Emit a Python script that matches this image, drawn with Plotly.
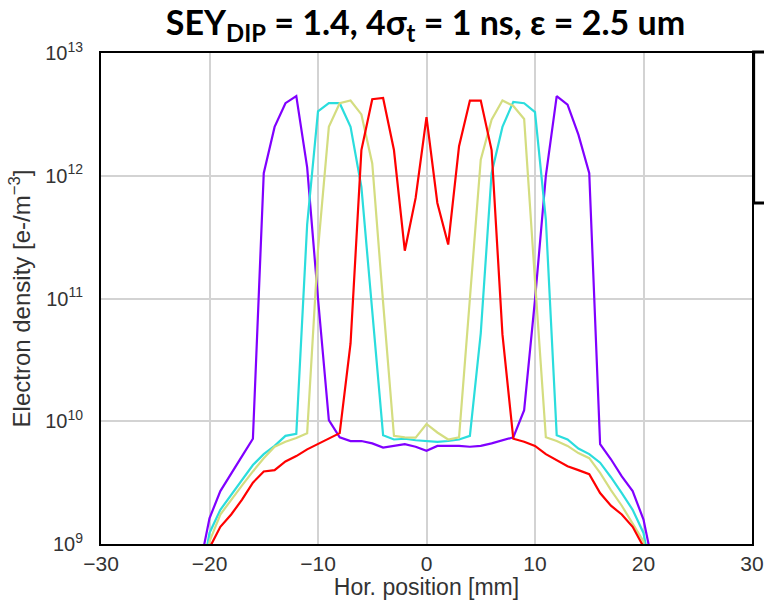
import plotly.graph_objects as go

x_mm = list(range(-21, 22))

purple = [5.9e8, 1.62e9, 2.7e9, 3.7e9, 5.2e9, 7.2e9, 1.05e12, 2.5e12, 3.9e12, 4.45e12,
          1.17e12, 1.0e11, 1.02e10, 7.4e9, 6.9e9, 6.9e9, 6.6e9, 6.1e9, 6.3e9, 6.5e9,
          6.2e9, 5.75e9, 6.3e9, 6.3e9, 6.3e9, 6.2e9, 6.3e9, 6.6e9, 7.0e9, 7.4e9,
          1.23e10, 9.8e10, 1.0e12, 4.45e12, 3.8e12, 2.16e12, 1.05e12, 6.5e9, 4.9e9, 3.55e9,
          2.7e9, 1.58e9, 5.9e8]
cyan = [4e8, 1.23e9, 1.9e9, 2.5e9, 3.3e9, 4.4e9, 5.4e9, 6.3e9, 7.6e9, 7.9e9,
        4.0e11, 3.35e12, 3.9e12, 3.9e12, 2.5e12, 8.1e11, 7.9e10, 7.7e9, 7.1e9, 7.2e9,
        7.0e9, 6.9e9, 6.8e9, 6.9e9, 7.1e9, 7.6e9, 5.2e10, 1.05e12, 2.5e12, 4.0e12,
        3.9e12, 3.3e12, 4.4e11, 7.7e9, 7.1e9, 6.0e9, 5.4e9, 4.6e9, 3.5e9, 2.6e9,
        1.9e9, 1.23e9, 4e8]
khaki = [1e8, 1.05e9, 1.74e9, 2.3e9, 3.0e9, 3.9e9, 5.0e9, 6.2e9, 6.8e9, 7.3e9,
         8.0e9, 2.5e11, 2.5e12, 3.9e12, 4.1e12, 3.16e12, 1.26e12, 9.3e10, 7.6e9, 7.4e9,
         7.35e9, 9.5e9, 8.1e9, 7.1e9, 7.4e9, 1.0e11, 1.35e12, 2.86e12, 4.1e12, 3.7e12,
         2.9e12, 1.4e11, 7.4e9, 6.9e9, 6.3e9, 5.5e9, 5.0e9, 3.8e9, 2.75e9, 2.05e9,
         1.48e9, 1.05e9, 1e8]
red = [1e8, 9.3e8, 1.38e9, 1.74e9, 2.3e9, 3.16e9, 3.9e9, 4.0e9, 4.7e9, 5.2e9,
       5.9e9, 6.5e9, 7.2e9, 8.0e9, 4.3e10, 1.62e12, 4.2e12, 4.3e12, 1.62e12, 2.45e11,
       6.6e11, 3.0e12, 6.0e11, 2.75e11, 1.74e12, 4.1e12, 4.1e12, 1.62e12, 5.1e10, 7.2e9,
       6.8e9, 6.3e9, 5.4e9, 4.8e9, 4.3e9, 4.0e9, 3.7e9, 2.6e9, 2.05e9, 1.74e9,
       1.38e9, 9.5e8, 1e8]

series = [("purple", purple, "#8000ff"), ("cyan", cyan, "#2bdddd"),
          ("khaki", khaki, "#d4dd80"), ("red", red, "#ff0000")]

x_ticks = [-30, -20, -10, 0, 10, 20, 30]
y_tickvals = [1e9, 1e10, 1e11, 1e12, 1e13]
y_ticktext = ["10<sup>9</sup>", "10<sup>10</sup>", "10<sup>11</sup>", "10<sup>12</sup>", "10<sup>13</sup>"]

fig = go.Figure()
for name, vals, col in series:
    fig.add_trace(go.Scatter(x=x_mm, y=vals, mode="lines", name=name,
                             line=dict(color=col, width=2.2), showlegend=False))

fig.update_layout(
    width=764, height=600,
    margin=dict(l=101, r=12, t=53, b=56),
    paper_bgcolor="white", plot_bgcolor="white",
    title=dict(text="<b>SEY<sub>DIP</sub> = 1.4, 4σ<sub>t</sub> = 1 ns, ε = 2.5 um</b>",
               x=0.557, xanchor="center", y=0.962, yanchor="middle",
               font=dict(family="Lato", size=34, color="black")),
    xaxis=dict(range=[-30, 30], tickvals=x_ticks, showgrid=True, gridcolor="#d3d3d3",
               gridwidth=1.5, zeroline=False, showline=True, linecolor="black",
               linewidth=2, mirror=True, ticks="", automargin=False,
               tickfont=dict(family="Liberation Sans", size=21, color="#333333"),
               title=dict(text="Hor. position [mm]", standoff=14,
                          font=dict(family="Liberation Sans", size=23, color="#333333"))),
    yaxis=dict(type="log", range=[9, 13], tickvals=y_tickvals, ticktext=y_ticktext,
               showgrid=True, gridcolor="#d3d3d3", gridwidth=1.5, zeroline=False,
               showline=True, linecolor="black", linewidth=2, mirror=True, ticks="",
               automargin=False, ticklabelstandoff=12,
               tickfont=dict(family="Liberation Sans", size=20, color="#333333"),
               title=dict(text="Electron density [e-/m<sup>−3</sup>]", standoff=8,
                          font=dict(family="Liberation Sans", size=24, color="#333333"))),
    shapes=[dict(type="rect", xref="paper", yref="paper", x0=1.0025, x1=1.08,
                 y0=0.6945, y1=1.002, line=dict(color="black", width=3),
                 fillcolor="white")],
)

fig.write_html("out.html")
